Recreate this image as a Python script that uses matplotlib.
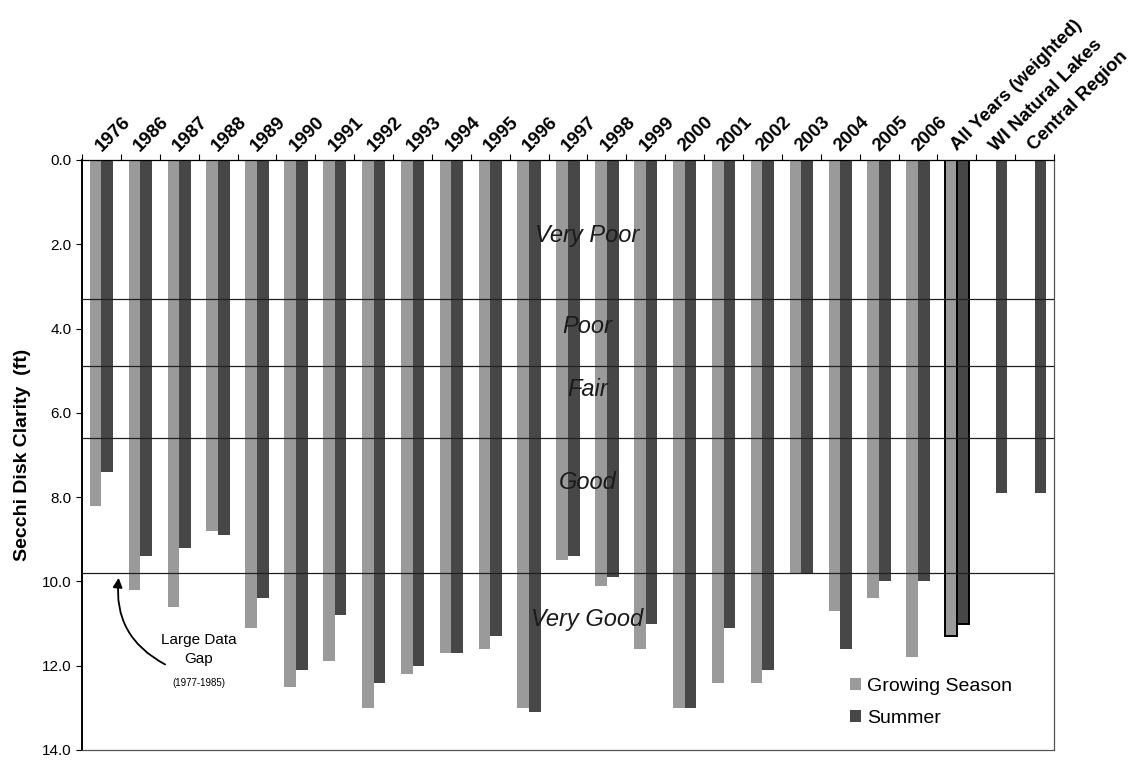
import numpy as np
import matplotlib
matplotlib.use("Agg")
import matplotlib.pyplot as plt
from matplotlib.ticker import FixedLocator, FormatStrFormatter

plt.rcParams['font.family'] = ['Liberation Sans', 'DejaVu Sans']

# categories along the top axis
categories = ["1976", "1986", "1987", "1988", "1989", "1990", "1991", "1992",
              "1993", "1994", "1995", "1996", "1997", "1998", "1999", "2000",
              "2001", "2002", "2003", "2004", "2005", "2006",
              "All Years (weighted)", "WI Natural Lakes", "Central Region"]

# secchi depth (ft)
growing = [8.2, 10.2, 10.6, 8.8, 11.1, 12.5, 11.9, 13.0, 12.2, 11.7, 11.6, 13.0,
           9.5, 10.1, 11.6, 13.0, 12.4, 12.4, 9.8, 10.7, 10.4, 11.8, 11.3,
           np.nan, np.nan]
summer = [7.4, 9.4, 9.2, 8.9, 10.4, 12.1, 10.8, 12.4, 12.0, 11.7, 11.3, 13.1,
          9.4, 9.9, 11.0, 13.0, 11.1, 12.1, 9.8, 11.6, 10.0, 10.0, 11.0,
          7.9, 7.9]

# trophic class boundaries and labels
boundaries = [3.3, 4.9, 6.6, 9.8]
class_names = ["Very Poor", "Poor", "Fair", "Good", "Very Good"]
class_depths = [1.8, 3.95, 5.45, 7.65, 10.9]

fig = plt.figure(figsize=(11.37, 7.61), dpi=100)
ax = fig.add_axes([0.0721, 0.0145, 0.855, 0.7753])

x = np.arange(len(categories))
w = 0.3
gs_col = "#9a9a9a"
su_col = "#474747"

edge_gs = ["black" if c.startswith("All") else "none" for c in categories]
edge_lw = [1.4 if c.startswith("All") else 0 for c in categories]

b1 = ax.bar(x - w / 2, growing, width=w, color=gs_col, edgecolor=edge_gs,
            linewidth=edge_lw, label="Growing Season", zorder=2)
b2 = ax.bar(x + w / 2, summer, width=w, color=su_col, edgecolor=edge_gs,
            linewidth=edge_lw, label="Summer", zorder=2)

for b in boundaries:
    ax.axhline(b, color="#202020", lw=0.9, zorder=3)

for name, d in zip(class_names, class_depths):
    ax.text(12.5, d, name, fontsize=17, style="italic", color="#1a1a1a",
            ha="center", va="center", zorder=4)

ax.set_xlim(-0.5, len(categories) - 0.5)
ax.set_ylim(14.0, 0.0)

ax.xaxis.tick_top()
ax.set_xticks(x)
ax.set_xticklabels(categories, rotation=45, ha="left", va="baseline",
                   rotation_mode="anchor", fontsize=13.5, fontweight="bold")
ax.tick_params(axis="x", which="major", length=0, pad=6)
ax.xaxis.set_minor_locator(FixedLocator(np.arange(-0.5, len(categories), 1.0)))
ax.tick_params(axis="x", which="minor", length=4, direction="out", top=True,
               bottom=False, width=0.8)

ax.set_yticks(np.arange(0, 14.1, 2.0))
ax.yaxis.set_major_formatter(FormatStrFormatter("%.1f"))
ax.tick_params(axis="y", length=4, direction="out", width=0.8, labelsize=11)
ax.set_ylabel("Secchi Disk Clarity  (ft)", fontsize=14, fontweight="bold",
              labelpad=8)

for s in ax.spines.values():
    s.set_linewidth(0.9)
ax.spines["left"].set_linewidth(1.4)
ax.spines["bottom"].set_color("#555555")
ax.spines["right"].set_color("#555555")

# data gap note
ax.annotate("", xy=(0.45, 9.85), xytext=(1.7, 12.0),
            arrowprops=dict(arrowstyle="-|>", color="black", lw=1.3,
                            connectionstyle="arc3,rad=-0.35",
                            mutation_scale=14))
ax.text(2.5, 11.4, "Large Data", fontsize=11, ha="center", va="center")
ax.text(2.5, 11.85, "Gap", fontsize=11, ha="center", va="center")
ax.text(2.5, 12.4, "(1977-1985)", fontsize=7, ha="center", va="center")

ax.legend(handles=[b1, b2], loc="lower right", bbox_to_anchor=(0.975, 0.01),
          frameon=False, fontsize=14, handlelength=0.6, handleheight=0.6,
          handletextpad=0.3, labelspacing=0.75)

fig.savefig("out.png", dpi=100)
